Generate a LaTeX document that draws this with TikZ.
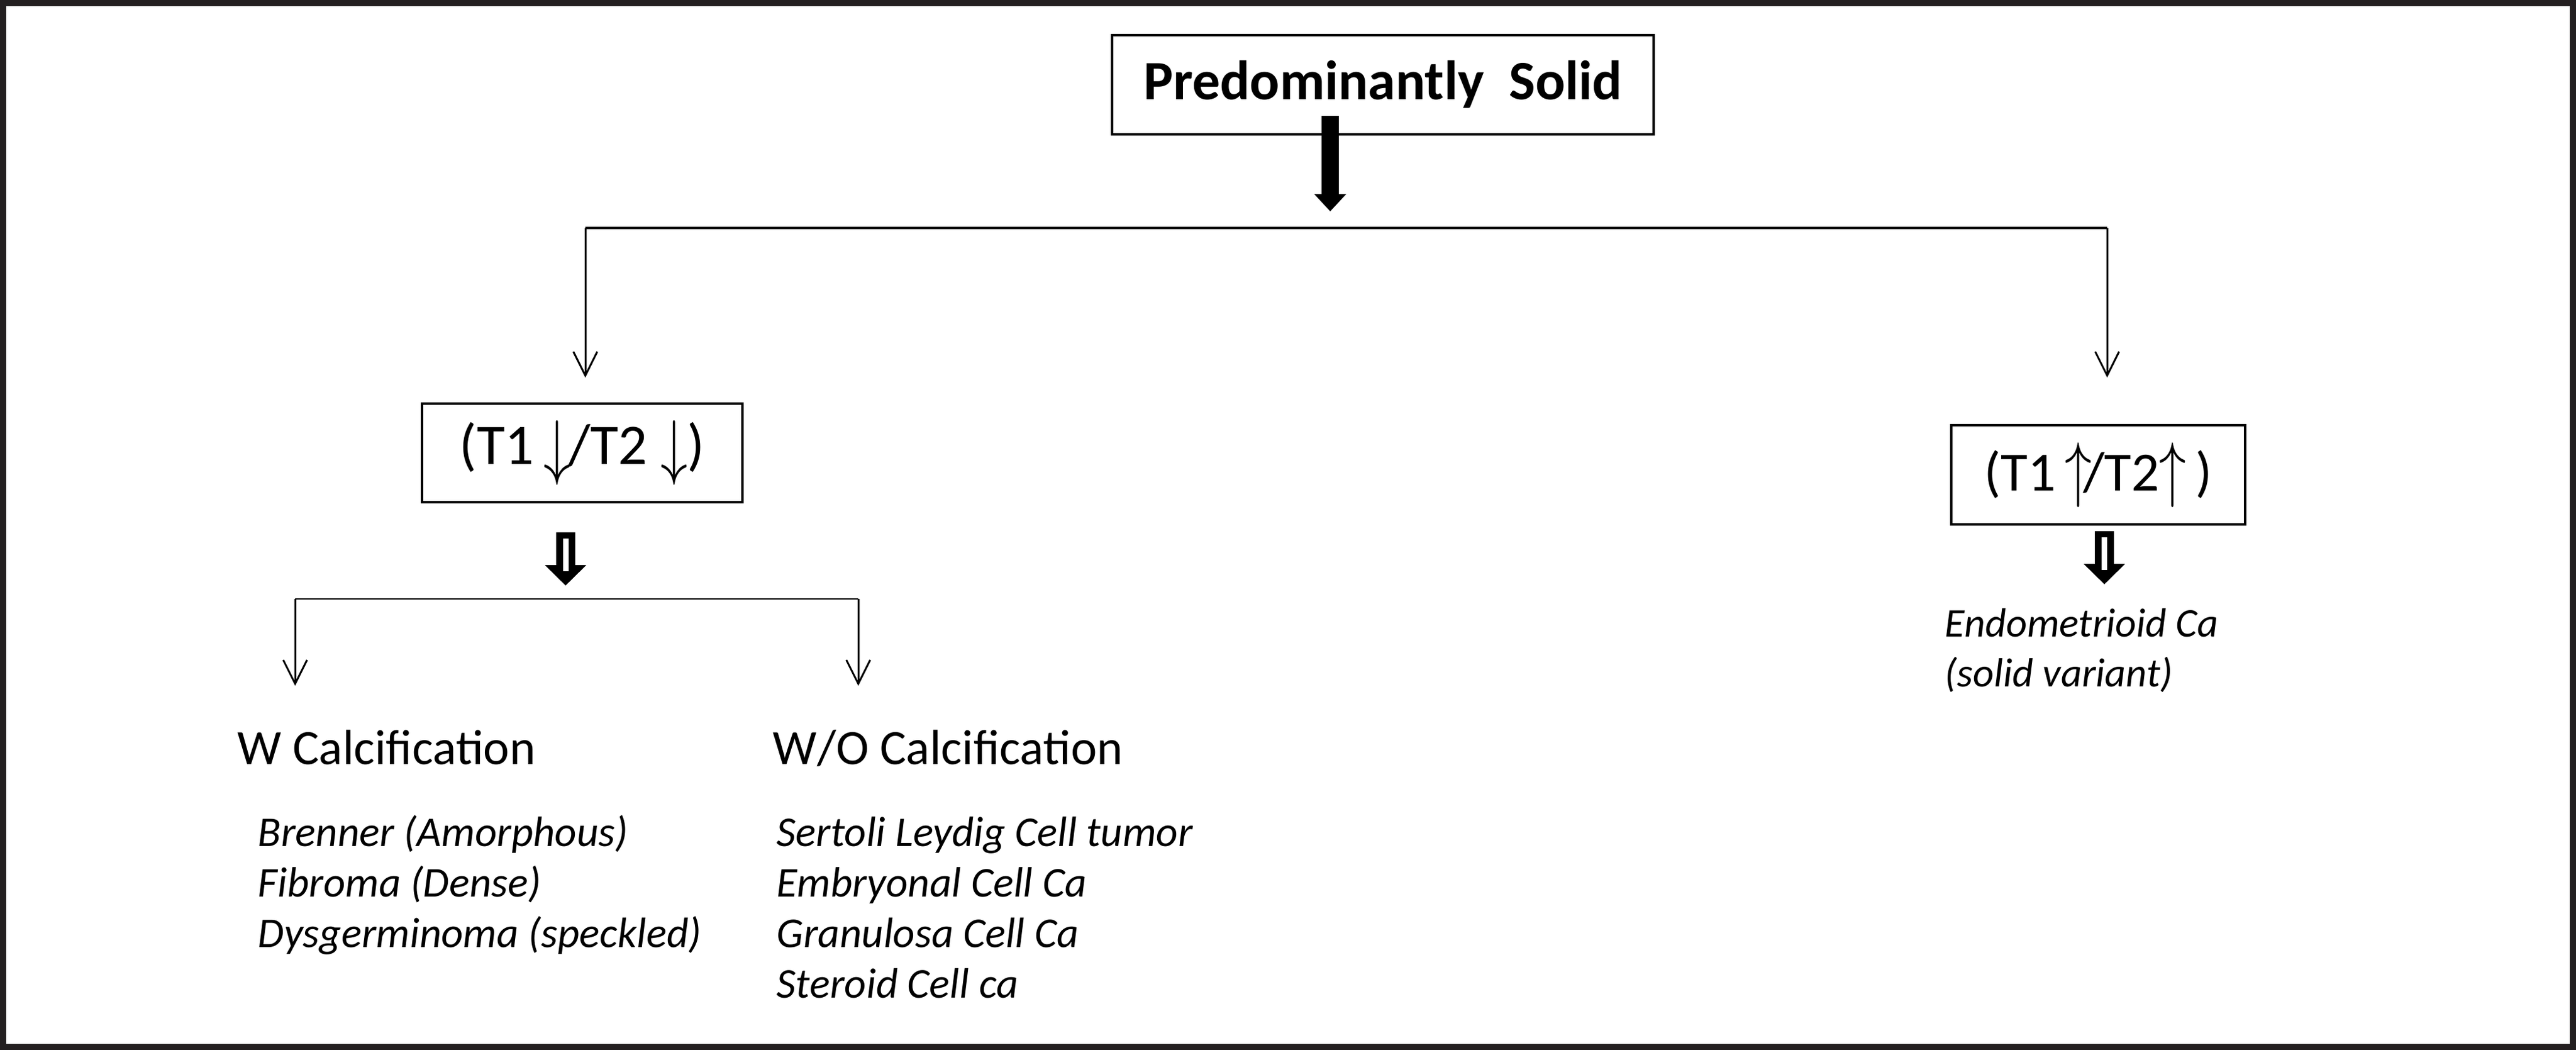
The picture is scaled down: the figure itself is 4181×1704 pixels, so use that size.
\documentclass[tikz,border=0pt]{standalone}
\usepackage{fontspec}
\setmainfont{Carlito}
\usetikzlibrary{arrows.meta, positioning}
\definecolor{framecol}{HTML}{231F20}
\newcommand{\dnar}{\raisebox{-3pt}{\scalebox{1}[1.35]{$\downarrow$}}}
\newcommand{\upar}{\raisebox{-1pt}{\scalebox{1}[1.35]{$\uparrow$}}}

\tikzset{
  box/.style={draw, line width=1.2pt, inner sep=0pt},
  thin/.style={line width=0.85pt, -{Straight Barb[length=11pt, width=11pt]}},
  head/.style={anchor=base west, inner sep=0pt, font=\fontsize{22.8}{26}\selectfont},
  item/.style={anchor=base west, inner sep=0pt, font=\fontsize{19.6}{22}\selectfont\itshape},
  hollow/.pic={
    \fill (-15.5,0) -- (15.5,0) -- (15.5,53) -- (33.5,53) -- (0,86) -- (-33.5,53) -- (-15.5,53) -- cycle;
    \fill[white] (-4.5,10) rectangle (4.5,63);
  }
}

\begin{document}
\begin{tikzpicture}[x=0.01cm, y=-0.01cm]
    \useasboundingbox (0,0) rectangle (4181,1704);
    \draw[framecol, line width=0.1cm] (5,5) rectangle (4176,1699);

    % top box
    \node[box, minimum width=8.79cm, minimum height=1.61cm, font=\fontsize{25.6}{30}\selectfont\bfseries] (solid) at (2244.5,137.5) {Predominantly\ \ Solid};
    \coordinate (sp) at (2159,370);
    \draw[line width=0.28cm, -{Triangle[width=0.5cm, length=0.28cm]}] (sp |- 0,188) -- (sp |- 0,343);

    \node[box, minimum width=5.2cm, minimum height=1.6cm, font=\fontsize{26.5}{30}\selectfont] (low) at (945,735) {(T1\,\dnar\kern-1pt/T2\ \dnar)};
    \node[box, minimum width=4.77cm, minimum height=1.61cm, font=\fontsize{25.5}{30}\selectfont] (high) at (3405.5,770.5) {(T1\,\upar\kern-4pt/T2\upar\,)};

    \coordinate (bl) at (950,370);
    \coordinate (br) at (3420,370);
    \draw[line width=1.3pt] (bl) -- (br);
    \draw[thin, shorten >=0.4cm] (bl) -- (bl |- low.north);
    \draw[thin, shorten >=0.75cm] (br) -- (br |- high.north);

    % hollow arrows
    \path (low.south) ++(-27,47) pic {hollow};
    \path (high.south) ++(10,9) pic {hollow};

    % left branch
    \coordinate (cl) at (479,972);
    \coordinate (cr) at (1393,972);
    \draw[line width=0.85pt] (cl) -- (cr);
    \node[head] (wcal) at (385,1241) {W Calcification};
    \node[head] (wocal) at (1254,1241) {W/O Calcification};
    \coordinate (cle) at (479,1113);
    \coordinate (cre) at (1393,1113);
    \draw[thin] (cl) -- (cle);
    \draw[thin] (cr) -- (cre);

    \foreach \t [count=\i] in {Brenner (Amorphous), Fibroma (Dense), Dysgerminoma (speckled)}
        \node[item] (w\i) at (418,1291+82*\i) {\t};
    \foreach \t [count=\i] in {Sertoli Leydig Cell tumor, Embryonal Cell Ca, Granulosa Cell Ca, Steroid Cell ca}
        \node[item] (wo\i) at (1260,1291+82*\i) {\t};

    % right branch
    \node[item, font=\fontsize{18.8}{22}\selectfont\itshape] (endo) at (3156,1034) {Endometrioid Ca};
    \node[item, font=\fontsize{18.8}{22}\selectfont\itshape] (endo2) at (3156,1115) {(solid variant)};
\end{tikzpicture}
\end{document}
